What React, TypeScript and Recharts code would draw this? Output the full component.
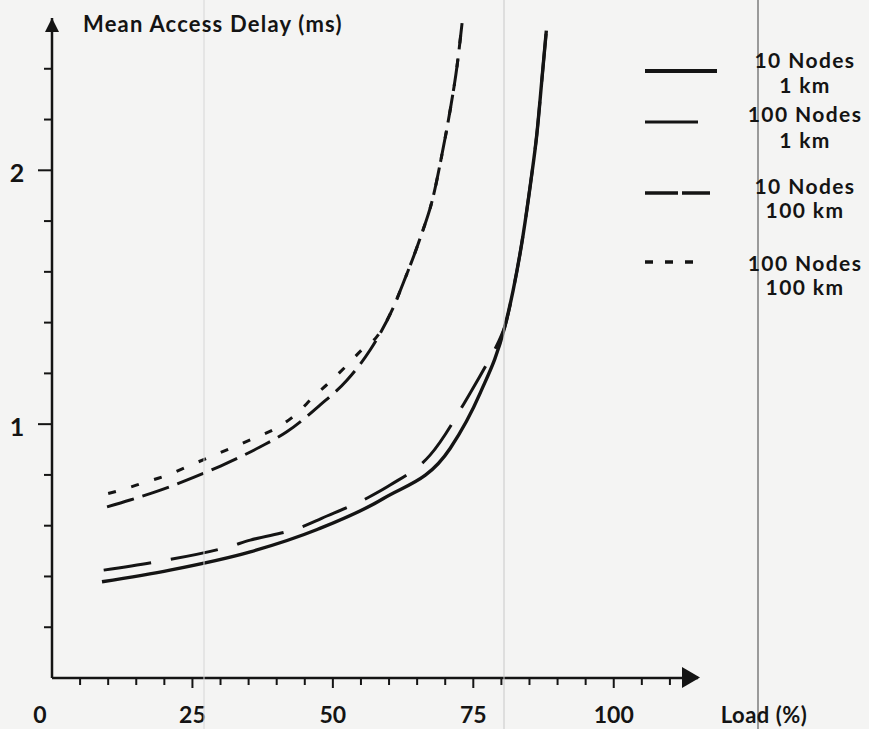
import { Line, LineChart, XAxis, YAxis } from 'recharts';

// load (%) and mean access delay (ms)
const LOAD_10N_1KM = [8.9, 21.0, 35.3, 47.2, 59.0, 70.9, 76.2, 80.6, 82.1, 83.9, 85.2, 86.3, 87.3, 88.0];
const DELAY_10N_1KM = [0.379, 0.425, 0.497, 0.585, 0.707, 0.905, 1.121, 1.383, 1.528, 1.75, 1.95, 2.14, 2.38, 2.55];

const LOAD_100N_1KM = [9.2, 18.7, 31.1, 35.3, 44.2, 48.0, 56.3, 60.2, 67.3, 74.4, 76.8, 80.0, 80.6, 82.1, 83.9, 85.2, 86.3, 87.3, 88.0];
const DELAY_100N_1KM = [0.425, 0.458, 0.515, 0.543, 0.593, 0.629, 0.711, 0.76, 0.878, 1.121, 1.213, 1.35, 1.383, 1.528, 1.75, 1.95, 2.14, 2.38, 2.55];

const LOAD_10N_100KM = [9.8, 13.9, 19.3, 25.2, 30.0, 37.1, 41.8, 47.7, 52.5, 56.6, 58.4, 60.8, 62.6, 65.5, 67.9, 69.4, 70.9, 72.1, 73.0];
const DELAY_10N_100KM = [0.674, 0.701, 0.74, 0.79, 0.835, 0.911, 0.97, 1.075, 1.173, 1.291, 1.357, 1.462, 1.56, 1.73, 1.9, 2.06, 2.24, 2.41, 2.58];

const LOAD_100N_100KM = [10.0, 12.2, 16.3, 20.5, 24.3, 31.7, 35.9, 40.3, 43.6, 46.5, 49.5, 52.5, 55.4, 57.8, 60.8, 62.6, 65.5, 67.9, 69.4, 70.9, 72.1, 73.0];
const DELAY_100N_100KM = [0.727, 0.74, 0.769, 0.799, 0.835, 0.904, 0.944, 0.989, 1.042, 1.107, 1.167, 1.232, 1.298, 1.344, 1.462, 1.56, 1.73, 1.9, 2.06, 2.24, 2.41, 2.58];

const X_TICKS = [0, 5, 10, 15, 20, 25, 30, 35, 40, 45, 50, 55, 60, 65, 70, 75, 80, 85, 90, 95, 100, 105, 110];
const X_LABELS = [0, 25, 50, 75, 100];
const Y_TICKS = [0.2, 0.4, 0.6, 0.8, 1, 1.2, 1.4, 1.6, 1.8, 2, 2.2, 2.4];
const Y_LABELS = [1, 2];

const INK = '#141414';
const FONT = 'Lato, "DejaVu Sans", sans-serif';

const zip = (xs: number[], ys: number[]) => xs.map((x, i) => ({ x, y: ys[i] }));

function XTick({ x, y, payload }: any) {
  const v = payload.value;
  const major = v % 25 === 0;
  return (
    <g>
      {v !== 0 && <line x1={x} y1={y} x2={x} y2={y + (major ? 10 : 7)} stroke={INK} strokeWidth={2} />}
      {X_LABELS.includes(v) && (
        <text x={v === 0 ? x - 12 : x} y={y + 36} textAnchor="middle" dominantBaseline="central"
          fontFamily={FONT} fontSize={23} fontWeight={700} fill={INK}>
          {v}
        </text>
      )}
    </g>
  );
}

function YTick({ x, y, payload }: any) {
  const v = payload.value;
  const major = Y_LABELS.includes(v);
  return (
    <g>
      <line x1={x - (major ? 14 : 8)} y1={y} x2={x} y2={y} stroke={INK} strokeWidth={2} />
      {major && (
        <text x={x - 35} y={y + 2} textAnchor="middle" dominantBaseline="central"
          fontFamily={FONT} fontSize={25} fontWeight={700} fill={INK}>
          {v}
        </text>
      )}
    </g>
  );
}

function Overlay() {
  const txt = {
    fontFamily: FONT, fontSize: 21, fontWeight: 700, fill: INK, letterSpacing: 1.4,
    textAnchor: 'middle' as const, dominantBaseline: 'central' as const,
  };
  return (
    <svg width={869} height={729} style={{ position: 'absolute', left: 0, top: 0, pointerEvents: 'none' }}>
      {/* faint scan lines from the page */}
      <line x1={204} y1={0} x2={204} y2={729} stroke="#d6d6d6" strokeWidth={1} />
      <line x1={504} y1={0} x2={504} y2={729} stroke="#c8c8c8" strokeWidth={1} />
      <line x1={758} y1={0} x2={758} y2={729} stroke="#6a6a6a" strokeWidth={1.3} />

      {/* axis arrows */}
      <polygon points="45,32 52,18 59,32" fill={INK} />
      <polygon points="682,667 700,677.5 682,688" fill={INK} />

      <text x={83} y={23} fontFamily={FONT} fontSize={22} fontWeight={700} letterSpacing={1.2}
        fill={INK} dominantBaseline="central">
        Mean Access Delay (ms)
      </text>
      <text x={764} y={714} {...txt} fontSize={22} letterSpacing={0.5}>Load (%)</text>

      {/* legend */}
      <line x1={645} y1={71} x2={717} y2={71} stroke={INK} strokeWidth={4} />
      <line x1={645} y1={122} x2={698} y2={122} stroke={INK} strokeWidth={3.2} />
      <line x1={645} y1={193} x2={710} y2={193} stroke={INK} strokeWidth={3.5} strokeDasharray="33 4" />
      <line x1={645} y1={262} x2={700} y2={262} stroke={INK} strokeWidth={3.5} strokeDasharray="8 12" />

      <text x={805} y={59} {...txt}>10 Nodes</text>
      <text x={805} y={84} {...txt}>1 km</text>
      <text x={805} y={113} {...txt}>100 Nodes</text>
      <text x={805} y={139} {...txt}>1 km</text>
      <text x={805} y={185} {...txt}>10 Nodes</text>
      <text x={805} y={209} {...txt}>100 km</text>
      <text x={805} y={262} {...txt}>100 Nodes</text>
      <text x={805} y={286} {...txt}>100 km</text>
    </svg>
  );
}

export default function App() {
  return (
    <div style={{ position: 'absolute', left: 0, top: 0, width: 869, height: 729, background: '#f4f4f3', overflow: 'hidden' }}>
      <LineChart width={869} height={729} margin={{ top: 18, right: 171, left: 12, bottom: 11 }}>
        <XAxis
          type="number"
          dataKey="x"
          domain={[0, 115]}
          ticks={X_TICKS}
          interval={0}
          allowDataOverflow
          height={40}
          tickSize={0}
          tickMargin={0}
          tickLine={false}
          tick={<XTick />}
          axisLine={{ stroke: INK, strokeWidth: 2.5 }}
        />
        <YAxis
          type="number"
          dataKey="y"
          domain={[0, 2.6]}
          ticks={Y_TICKS}
          interval={0}
          allowDataOverflow
          width={40}
          tickSize={0}
          tickMargin={0}
          tickLine={false}
          tick={<YTick />}
          axisLine={{ stroke: INK, strokeWidth: 2.5 }}
        />
        <Line
          data={zip(LOAD_100N_100KM, DELAY_100N_100KM)}
          dataKey="y"
          type="monotone"
          stroke={INK}
          strokeWidth={3}
          strokeDasharray="8 16"
          dot={false}
          isAnimationActive={false}
        />
        <Line
          data={zip(LOAD_10N_100KM, DELAY_10N_100KM)}
          dataKey="y"
          type="monotone"
          stroke={INK}
          strokeWidth={3}
          strokeDasharray="28 9"
          dot={false}
          isAnimationActive={false}
        />
        <Line
          data={zip(LOAD_100N_1KM, DELAY_100N_1KM)}
          dataKey="y"
          type="monotone"
          stroke={INK}
          strokeWidth={3}
          strokeDasharray="48 20"
          dot={false}
          isAnimationActive={false}
        />
        <Line
          data={zip(LOAD_10N_1KM, DELAY_10N_1KM)}
          dataKey="y"
          type="monotone"
          stroke={INK}
          strokeWidth={3.4}
          dot={false}
          isAnimationActive={false}
        />
      </LineChart>
      <Overlay />
    </div>
  );
}
